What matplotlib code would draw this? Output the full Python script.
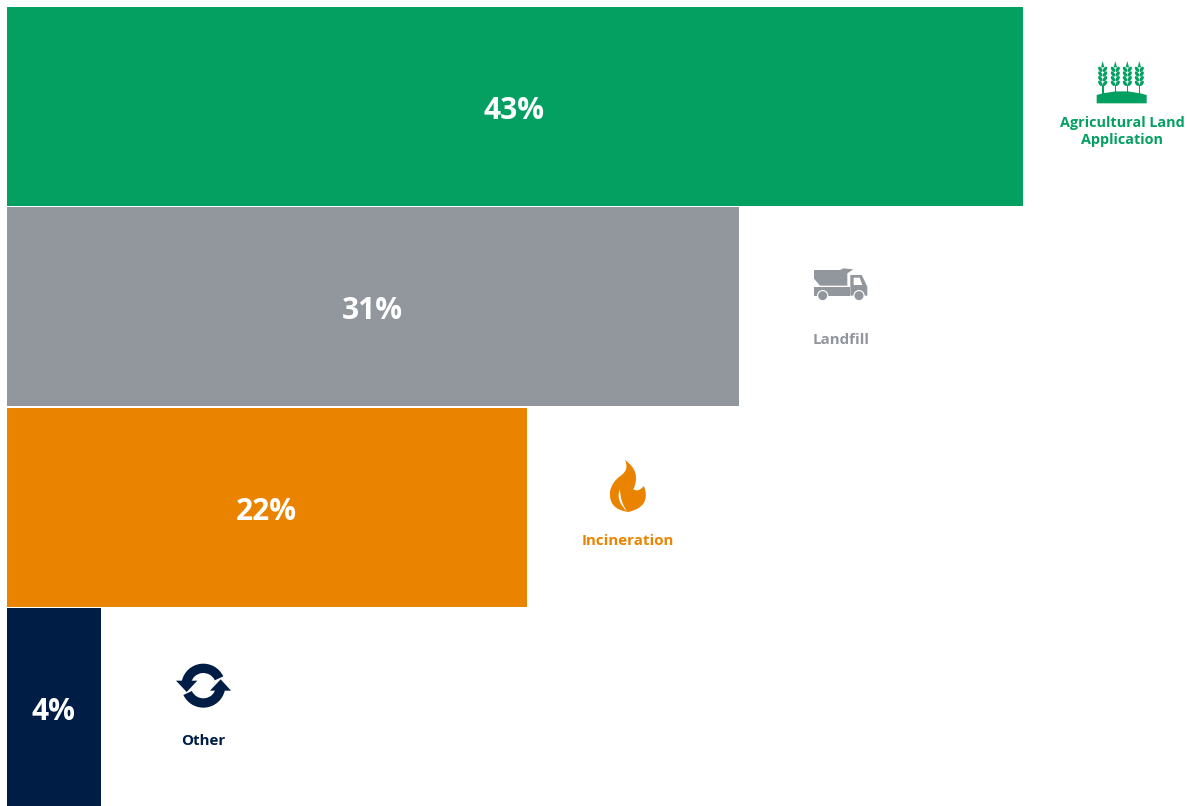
import matplotlib
matplotlib.use("Agg")
import matplotlib.pyplot as plt
from matplotlib.patches import Polygon, Rectangle, Circle, Ellipse, Wedge, PathPatch
from matplotlib.path import Path

plt.rcParams['font.family'] = ['Open Sans', 'DejaVu Sans']

categories = ["Agricultural Land\nApplication", "Landfill", "Incineration", "Other"]
shares = [43, 31, 22, 4]
bar_colors = ["#03A062", "#92969D", "#EA8400", "#001D45"]

W, H = 1187, 806
PX_PER_PCT = 23.62
LEFT = 7
ROW_PX = 200.5

fig = plt.figure(figsize=(W / 100, H / 100), dpi=100, facecolor="white")

# Bars, on an axes that fills the figure
ax = fig.add_axes([0, 0, 1, 1])
ax.set_xlim(-LEFT / PX_PER_PCT, (W - LEFT) / PX_PER_PCT)
top = -106.4 / ROW_PX
ax.set_ylim(top + H / ROW_PX, top)
ax.axis("off")
bars = ax.barh(range(len(shares)), shares, height=0.993, color=bar_colors, linewidth=0)
for i, s in enumerate(shares):
    ax.annotate(f"{s}%", (s / 2, i), xytext=(-0.5, -0.5), textcoords="offset points",
                ha="center", va="center_baseline", color="white",
                fontsize=21.5, fontweight="bold")

# Overlay in pixel units for the pictograms and their captions
ov = fig.add_axes([0, 0, 1, 1])
ov.set_xlim(0, W)
ov.set_ylim(H, 0)
ov.axis("off")
ov.patch.set_alpha(0)


def local(ox, oy, pts):
    """Convert points from a 3x icon grid to figure pixels."""
    return [(ox + x / 3, oy + y / 3) for x, y in pts]


def draw_wheat(ox, oy, color):
    ov.add_patch(PathPatch(Path(local(ox, oy, [(140, 160), (140, 135), (215, 112), (290, 135), (290, 160), (140, 160)]),
                                [Path.MOVETO, Path.LINETO, Path.CURVE3, Path.CURVE3, Path.LINETO, Path.CLOSEPOLY]),
                           fc=color, ec="none"))
    for cx in (158, 196, 232, 268):
        ov.add_patch(Rectangle((ox + (cx - 2.5) / 3, oy + 105 / 3), 5 / 3, 28 / 3, fc=color, ec="none"))
        ov.add_patch(Polygon(local(ox, oy, [(cx, 33), (cx + 5, 52), (cx - 5, 52)]), fc=color, ec="none"))
        for yy in (58, 72, 86, 100):
            for side in (-1, 1):
                ov.add_patch(Ellipse((ox + (cx + side * 7) / 3, oy + yy / 3), 10 / 3, 18 / 3,
                                     angle=side * 35, fc=color, ec="none"))


def draw_truck(ox, oy, color):
    ov.add_patch(Polygon(local(ox, oy, [(72, 60), (150, 60), (160, 55), (190, 58), (172, 70), (172, 107), (90, 107), (72, 86)]),
                         fc=color, ec="none"))
    ov.add_patch(Rectangle((ox + 72 / 3, oy + 112 / 3), 108 / 3, 25 / 3, fc=color, ec="none"))
    ov.add_patch(Polygon(local(ox, oy, [(181, 75), (215, 75), (232, 110), (232, 137), (181, 137)]), fc=color, ec="none"))
    ov.add_patch(Polygon(local(ox, oy, [(191, 83), (209, 83), (217, 105), (191, 105)]), fc="white", ec="none"))
    for cx in (98, 207):
        ov.add_patch(Circle((ox + cx / 3, oy + 137 / 3), 17 / 3, fc="white", ec="none"))
        ov.add_patch(Circle((ox + cx / 3, oy + 137 / 3), 13.5 / 3, fc=color, ec="none"))


def draw_flame(ox, oy, color):
    outer = [(165, 30), (215, 65), (190, 118), (205, 128), (222, 108), (245, 170),
             (175, 186), (115, 178), (120, 125), (125, 95), (155, 75), (178, 58), (165, 30)]
    codes = [Path.MOVETO] + [Path.CURVE3] * 12
    ov.add_patch(PathPatch(Path(local(ox, oy, outer), codes), fc=color, ec="none"))
    notch = [(150, 118), (135, 150), (172, 186), (150, 155), (150, 118)]
    ncodes = [Path.MOVETO] + [Path.CURVE3] * 4
    ov.add_patch(PathPatch(Path(local(ox, oy, notch), ncodes), fc="white", ec="none"))


def draw_cycle(ox, oy, color):
    cx, cy = ox + 160 / 3, oy + 107 / 3
    ov.add_patch(Wedge((cx, cy), 66 / 3, 192, 335, width=28 / 3, fc=color, ec="none"))
    ov.add_patch(Wedge((cx, cy), 66 / 3, 12, 155, width=28 / 3, fc=color, ec="none"))
    ov.add_patch(Polygon(local(ox, oy, [(78, 92), (142, 92), (110, 126)]), fc=color, ec="none"))
    ov.add_patch(Polygon(local(ox, oy, [(243, 122), (180, 122), (212, 88)]), fc=color, ec="none"))


# Caption placement follows the end of each bar
caption_y = [124, 341, 542, 742]
caption_dx = [99.5, 101.5, 101, 102]
caption_size = [10.4, 10.9, 10.9, 10.9]
for share, name, color, y, dx, size in zip(shares, categories, bar_colors, caption_y, caption_dx, caption_size):
    x = LEFT + share * PX_PER_PCT + dx
    ov.text(x, y - 8, name, ha="center", va="top", color=color, fontsize=size,
            fontweight="bold", linespacing=1.3)

draw_wheat(1050, 50, bar_colors[0])
draw_truck(790, 250, bar_colors[1])
draw_flame(570, 450, bar_colors[2])
draw_cycle(150, 650, bar_colors[3])

fig.savefig("out.png", dpi=100, facecolor="white")
